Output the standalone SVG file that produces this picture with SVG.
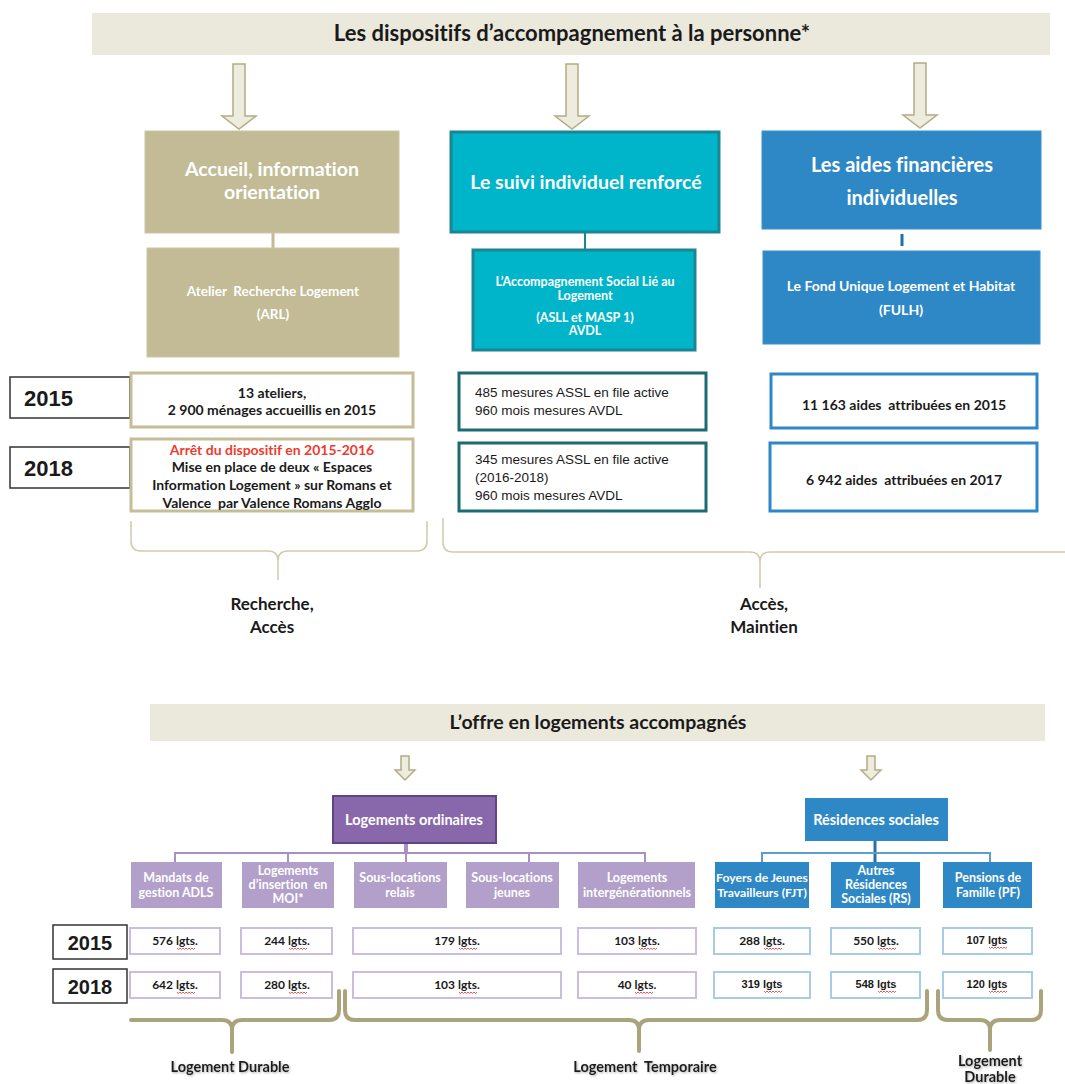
<svg xmlns="http://www.w3.org/2000/svg" width="1065" height="1084" viewBox="0 0 1065 1084">
<style>
text{font-family:Lato,"Open Sans","Liberation Sans",sans-serif;font-weight:bold;text-anchor:middle;white-space:pre;font-variant-ligatures:none}
.ar{font-family:"Liberation Sans",Arial,sans-serif}
.n{font-weight:normal;text-anchor:start}
.w{fill:#ffffff}
.k{fill:#1a1a1a}
.banner{fill:#ebe8dc}
.arrow{fill:#eeebdf;stroke:#b3ac84;stroke-width:1.5}
.tan{fill:#c2bb96;stroke:#cbc5a4;stroke-width:1}
.teal{fill:#00b5c9;stroke:#1a8593;stroke-width:3}
.blue{fill:#2f88c6;stroke:#3b90cc;stroke-width:1}
.dtan{fill:#fff;stroke:#c5bd98;stroke-width:3}
.dteal{fill:#fff;stroke:#1c6b73;stroke-width:3}
.dblue{fill:#fff;stroke:#2d87c9;stroke-width:3}
.yr{fill:#fff;stroke:#333;stroke-width:1.5}
.pp{fill:#8868ab;stroke:#5f4584;stroke-width:2}
.pc{fill:#b29fca}
.bc{fill:#2f88c6}
.cp{fill:#fff;stroke:#cbbde0;stroke-width:2}
.cb{fill:#fff;stroke:#a8cbe8;stroke-width:2}
.brT{fill:none;stroke:#d1cab0;stroke-width:1.5}
.brB{fill:none;stroke:#aaa37c;stroke-width:4;stroke-linecap:round}
.sq{fill:none;stroke:#e0322a;stroke-width:0.8}
</style>
<defs>
<path id="arBig" d="M-6,0 h12 v52 h11 l-17,13 l-17,-13 h11 z"/>
<path id="arSm" d="M-4,0 h8 v14 h6 l-10,10 l-10,-10 h6 z"/>
<path id="wave" d="M0,0 l1.5,1.5 l1.5,-1.5 l1.5,1.5 l1.5,-1.5 l1.5,1.5 l1.5,-1.5 l1.5,1.5 l1.5,-1.5 l1.5,1.5 l1.5,-1.5 l1.5,1.5 l1.5,-1.5"/>
<filter id="sh" x="-10%" y="-30%" width="120%" height="160%"><feDropShadow dx="1" dy="1" stdDeviation="0.8" flood-color="#777" flood-opacity="0.6"/></filter>
</defs>
<rect width="1065" height="1084" fill="#fff"/>

<!-- TOP SECTION -->
<g id="title-top">
<rect class="banner" x="92" y="13" width="958" height="42"/>
<text class="k" x="572" y="41" font-size="22">Les dispositifs d’accompagnement à la personne*</text>
</g>

<g id="connectors">
<use href="#arBig" class="arrow" x="239" y="64"/>
<use href="#arBig" class="arrow" x="572" y="64"/>
<use href="#arBig" class="arrow" x="920" y="63"/>
<line x1="273" y1="233" x2="273" y2="248" stroke="#c2bb96" stroke-width="3"/>
<line x1="585" y1="233" x2="585" y2="249" stroke="#1a8593" stroke-width="2"/>
<line x1="902" y1="234" x2="902" y2="246" stroke="#1f6fa8" stroke-width="3"/>
<path class="brT" d="M131,521 V541 Q131,551 141,551 H268 Q278,551 278,561 V580 M278,561 Q278,551 288,551 H417 Q427,551 427,541 V521"/>
<path class="brT" d="M443,518 V542 Q443,552 453,552 H750 Q760,552 760,562 V588 M760,562 Q760,552 770,552 H1065"/>
<use href="#arSm" class="arrow" x="405" y="756"/>
<use href="#arSm" class="arrow" x="871" y="756"/>
<line x1="406" y1="843" x2="406" y2="853" stroke="#a88fc4" stroke-width="4"/>
<path d="M175,862 V853 H645 V862 M288,853 V862 M406,853 V862 M529,853 V862" fill="none" stroke="#a88fc4" stroke-width="2"/>
<line x1="875" y1="841" x2="875" y2="862" stroke="#2a6fa3" stroke-width="3"/>
<path d="M762,862 V853 H990 V862" fill="none" stroke="#5a9fd0" stroke-width="2"/>
<path class="brB" d="M131,1020 H222 Q232,1020 232,1030 V1052 M232,1030 Q232,1020 242,1020 H329 Q339,1020 339,1010 V991"/>
<path class="brB" d="M345,991 V1010 Q345,1020 355,1020 H629 Q639,1020 639,1030 V1051 M639,1030 Q639,1020 649,1020 H917 Q927,1020 927,1010 V991"/>
<path class="brB" d="M938,991 V1010 Q938,1020 948,1020 H980 Q990,1020 990,1030 V1050 M990,1030 Q990,1020 1000,1020 H1031 Q1041,1020 1041,1010 V991"/>
</g>

<g id="accueil">
<rect class="tan" x="145" y="131" width="254" height="102"/>
<text class="w" x="272" y="176" font-size="19.5">Accueil, information</text>
<text class="w" x="272" y="199" font-size="19.5">orientation</text>
</g>
<g id="arl">
<rect class="tan" x="147" y="248" width="252" height="109"/>
<text class="w" x="273" y="296" font-size="13.5">Atelier  Recherche Logement</text>
<text class="w" x="273" y="319" font-size="13.5">(ARL)</text>
</g>

<g id="suivi">
<rect class="teal" x="451" y="132" width="268" height="100"/>
<text class="w" x="586" y="189" font-size="19.5">Le suivi individuel renforcé</text>
</g>
<g id="asll">
<rect class="teal" x="473" y="250" width="222" height="100"/>
<text class="w" x="585" y="286" font-size="12.5">L’Accompagnement Social Lié au</text>
<text class="w" x="585" y="300" font-size="12.5">Logement</text>
<text class="w" x="585" y="322" font-size="12.5">(ASLL et MASP 1)</text>
<text class="w" x="585" y="335" font-size="12.5">AVDL</text>
</g>

<g id="aides">
<rect class="blue" x="762" y="131" width="279" height="98"/>
<text class="w" x="902" y="172" font-size="20">Les aides financières</text>
<text class="w" x="902" y="205" font-size="20">individuelles</text>
</g>
<g id="fulh">
<rect class="blue" x="763" y="251" width="277" height="93"/>
<text class="w" x="901" y="291" font-size="14">Le Fond Unique Logement et Habitat</text>
<text class="w" x="901" y="315" font-size="14">(FULH)</text>
</g>

<g id="year-2015-top">
<rect class="yr" x="10" y="377" width="120" height="41"/>
<text class="ar k" x="24" y="406" font-size="22" style="text-anchor:start">2015</text>
</g>
<g id="year-2018-top">
<rect class="yr" x="10" y="447" width="120" height="41"/>
<text class="ar k" x="24" y="476" font-size="22" style="text-anchor:start">2018</text>
</g>

<g id="arl-2015">
<rect class="dtan" x="131" y="373" width="282" height="54"/>
<text class="k" x="272" y="398" font-size="14">13 ateliers,</text>
<text class="k" x="272" y="415" font-size="14">2 900 ménages accueillis en 2015</text>
</g>
<g id="arl-2018">
<rect class="dtan" x="131" y="439" width="282" height="72"/>
<text x="272" y="455" font-size="14" fill="#ee3b2f">Arrêt du dispositif en 2015-2016</text>
<text class="k" x="272" y="472" font-size="14">Mise en place de deux « Espaces</text>
<text class="k" x="272" y="490" font-size="14">Information Logement » sur Romans et</text>
<text class="k" x="272" y="508" font-size="14">Valence  par Valence Romans Agglo</text>
</g>

<g id="asll-2015">
<rect class="dteal" x="459" y="373" width="247" height="57"/>
<text class="ar n k" x="475" y="397" font-size="13.5">485 mesures ASSL en file active</text>
<text class="ar n k" x="475" y="415" font-size="13.5">960 mois mesures AVDL</text>
</g>
<g id="asll-2018">
<rect class="dteal" x="459" y="443" width="247" height="68"/>
<text class="ar n k" x="475" y="464" font-size="13.5">345 mesures ASSL en file active</text>
<text class="ar n k" x="475" y="482" font-size="13.5">(2016-2018)</text>
<text class="ar n k" x="475" y="500" font-size="13.5">960 mois mesures AVDL</text>
</g>

<g id="fulh-2015">
<rect class="dblue" x="771" y="374" width="266" height="54"/>
<text class="k" x="904" y="410" font-size="14">11 163 aides  attribuées en 2015</text>
</g>
<g id="fulh-2018">
<rect class="dblue" x="770" y="443" width="267" height="68"/>
<text class="k" x="904" y="485" font-size="14">6 942 aides  attribuées en 2017</text>
</g>

<g id="label-recherche">
<text class="k" x="272" y="610" font-size="17">Recherche,</text>
<text class="k" x="272" y="633" font-size="17">Accès</text>
</g>
<g id="label-acces">
<text class="k" x="764" y="610" font-size="17">Accès,</text>
<text class="k" x="764" y="633" font-size="17">Maintien</text>
</g>

<!-- BOTTOM SECTION -->
<g id="title-bottom">
<rect class="banner" x="150" y="704" width="895" height="37"/>
<text class="k" x="598" y="729" font-size="19.5">L’offre en logements accompagnés</text>
</g>

<g id="logements-ordinaires">
<rect class="pp" x="333" y="796" width="163" height="47"/>
<text class="w" x="414" y="825" font-size="14.5">Logements ordinaires</text>
</g>
<g id="residences-sociales">
<rect class="bc" x="805" y="798" width="143" height="43"/>
<text class="w" x="876" y="825" font-size="14.5">Résidences sociales</text>
</g>

<g id="mandats"><rect class="pc" x="131" y="862" width="91" height="46"/>
<text class="w" x="176" y="882" font-size="12.5">Mandats de</text><text class="w" x="176" y="897" font-size="12.5">gestion ADLS</text></g>
<g id="insertion"><rect class="pc" x="242" y="862" width="92" height="46"/>
<text class="w" x="288" y="875" font-size="12.5">Logements</text><text class="w" x="288" y="889" font-size="12.5">d’insertion  en</text><text class="w" x="288" y="903" font-size="12.5">MOI*</text></g>
<g id="sl-relais"><rect class="pc" x="354" y="862" width="93" height="46"/>
<text class="w" x="400" y="882" font-size="12.5">Sous-locations</text><text class="w" x="400" y="897" font-size="12.5">relais</text></g>
<g id="sl-jeunes"><rect class="pc" x="466" y="862" width="93" height="46"/>
<text class="w" x="512" y="882" font-size="12.5">Sous-locations</text><text class="w" x="512" y="897" font-size="12.5">jeunes</text></g>
<g id="intergen"><rect class="pc" x="578" y="862" width="117" height="46"/>
<text class="w" x="637" y="882" font-size="12.5">Logements</text><text class="w" x="637" y="897" font-size="12.5">intergénérationnels</text></g>
<g id="fjt"><rect class="bc" x="715" y="862" width="94" height="46"/>
<text class="w" x="762" y="882" font-size="12.2">Foyers de Jeunes</text><text class="w" x="762" y="897" font-size="12.2">Travailleurs (FJT)</text></g>
<g id="autres-rs"><rect class="bc" x="831" y="862" width="89" height="46"/>
<text class="w" x="876" y="875" font-size="12.5">Autres</text><text class="w" x="876" y="889" font-size="12.5">Résidences</text><text class="w" x="876" y="903" font-size="12.5">Sociales (RS)</text></g>
<g id="pensions"><rect class="bc" x="943" y="862" width="89" height="46"/>
<text class="w" x="988" y="882" font-size="12.5">Pensions de</text><text class="w" x="988" y="897" font-size="12.5">Famille (PF)</text></g>

<g id="year-2015-bottom">
<rect class="yr" x="53" y="925" width="74" height="34"/>
<text class="ar k" x="90" y="950" font-size="20">2015</text>
</g>
<g id="year-2018-bottom">
<rect class="yr" x="53" y="969" width="74" height="34"/>
<text class="ar k" x="90" y="994" font-size="20">2018</text>
</g>

<g id="cells-2015">
<rect class="cp" x="130" y="928" width="90" height="26"/>
<text class="k" x="175" y="945" font-size="12">576 lgts.</text><use href="#wave" class="sq" x="177" y="948"/>
<rect class="cp" x="241" y="928" width="91" height="26"/>
<text class="k" x="287" y="945" font-size="12">244 lgts.</text><use href="#wave" class="sq" x="289" y="948"/>
<rect class="cp" x="353" y="928" width="208" height="26"/>
<text class="k" x="457" y="945" font-size="12">179 lgts.</text><use href="#wave" class="sq" x="459" y="948"/>
<rect class="cp" x="578" y="928" width="118" height="26"/>
<text class="k" x="637" y="945" font-size="12">103 lgts.</text><use href="#wave" class="sq" x="639" y="948"/>
<rect class="cb" x="714" y="928" width="96" height="26"/>
<text class="k" x="762" y="945" font-size="12">288 lgts.</text><use href="#wave" class="sq" x="764" y="948"/>
<rect class="cb" x="831" y="928" width="89" height="26"/>
<text class="k" x="876" y="945" font-size="12">550 lgts.</text><use href="#wave" class="sq" x="878" y="948"/>
<rect class="cb" x="943" y="928" width="89" height="26"/>
<text class="ar k" x="987" y="944" font-size="11">107 lgts</text><use href="#wave" class="sq" x="989" y="947"/>
</g>
<g id="cells-2018">
<rect class="cp" x="130" y="972" width="90" height="26"/>
<text class="k" x="175" y="989" font-size="12">642 lgts.</text><use href="#wave" class="sq" x="177" y="992"/>
<rect class="cp" x="241" y="972" width="91" height="26"/>
<text class="k" x="287" y="989" font-size="12">280 lgts.</text><use href="#wave" class="sq" x="289" y="992"/>
<rect class="cp" x="353" y="972" width="208" height="26"/>
<text class="k" x="457" y="989" font-size="12">103 lgts.</text><use href="#wave" class="sq" x="459" y="992"/>
<rect class="cp" x="578" y="972" width="118" height="26"/>
<text class="k" x="637" y="989" font-size="12">40 lgts.</text><use href="#wave" class="sq" x="635" y="992"/>
<rect class="cb" x="714" y="972" width="96" height="26"/>
<text class="ar k" x="762" y="988" font-size="11">319 lgts</text><use href="#wave" class="sq" x="764" y="991"/>
<rect class="cb" x="831" y="972" width="89" height="26"/>
<text class="ar k" x="876" y="988" font-size="11">548 lgts</text><use href="#wave" class="sq" x="878" y="991"/>
<rect class="cb" x="943" y="972" width="89" height="26"/>
<text class="ar k" x="987" y="988" font-size="11">120 lgts</text><use href="#wave" class="sq" x="989" y="991"/>
</g>

<g id="label-durable-1" filter="url(#sh)">
<text class="k" x="230" y="1072" font-size="14.5">Logement Durable</text>
</g>
<g id="label-temporaire" filter="url(#sh)">
<text class="k" x="645" y="1072" font-size="14.5">Logement  Temporaire</text>
</g>
<g id="label-durable-2" filter="url(#sh)">
<text class="k" x="990" y="1066" font-size="14.5">Logement</text>
<text class="k" x="990" y="1082" font-size="14.5">Durable</text>
</g>
</svg>
